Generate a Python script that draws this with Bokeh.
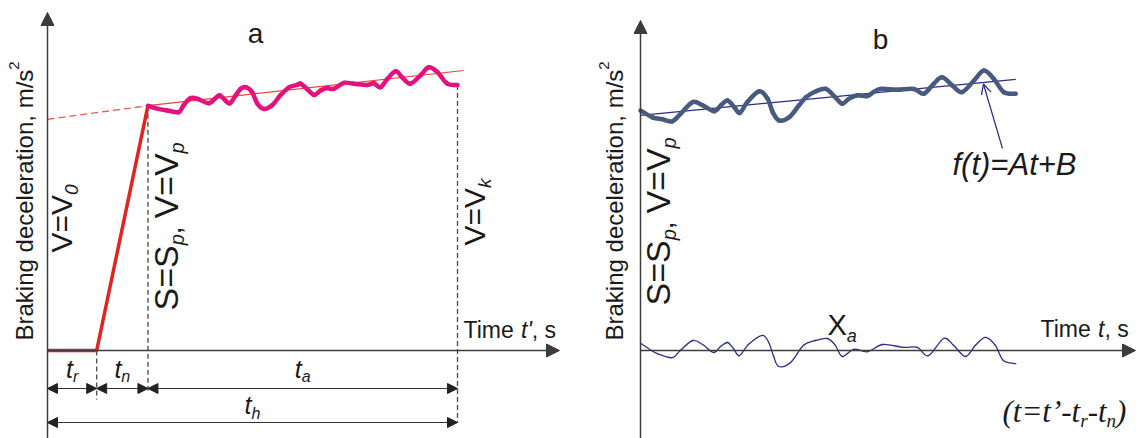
import numpy as np
from bokeh.plotting import figure
from bokeh.models import Range1d, Arrow, NormalHead, OpenHead
from bokeh.core.properties import value
from bokeh.embed import file_html
from bokeh.resources import INLINE

# ---------------- data ----------------
T_R = 1.2          # reaction time, s
T_N = 1.25         # deceleration build-up time, s
T_A = 7.55         # steady braking time, s
T_H = T_R + T_N + T_A
A_P = 6.12         # deceleration at S = Sp

ramp_t = [0.0, T_R, T_R + T_N]
ramp_a = [0.0, 0.0, A_P]

extrap_t = [0.0, T_R + T_N]
extrap_a = [5.78, A_P]
trend_a_t = [T_R + T_N, T_H + 0.15]
trend_a_a = [A_P, 7.0]

meas_t = [2.45, 2.63, 2.92, 3.20, 3.32, 3.49, 3.69, 3.93, 4.10, 4.20,
          4.34, 4.45, 4.59, 4.71, 4.85, 4.99, 5.12, 5.28, 5.48, 5.68,
          5.89, 6.09, 6.17, 6.33, 6.50, 6.66, 6.82, 6.98, 7.23, 7.47,
          7.80, 7.96, 8.12, 8.29, 8.49, 8.65, 8.85, 9.10, 9.30, 9.51,
          9.75, 10.0]
meas_a = [6.12, 6.06, 6.00, 5.96, 6.13, 6.31, 6.28, 6.18, 6.31, 6.38,
          6.25, 6.18, 6.38, 6.54, 6.58, 6.46, 6.17, 6.04, 6.13, 6.38,
          6.58, 6.64, 6.67, 6.54, 6.39, 6.50, 6.56, 6.54, 6.69, 6.67,
          6.64, 6.68, 6.58, 6.79, 6.98, 6.83, 6.67, 6.88, 7.08, 6.96,
          6.67, 6.64]

fit_t = [0.00, 0.24, 0.44, 0.64, 0.81, 1.05, 1.25, 1.48, 1.62, 1.75,
         1.89, 2.00, 2.15, 2.39, 2.56, 2.66, 2.79, 2.99, 3.19, 3.33,
         3.53, 3.73, 3.92, 4.06, 4.19, 4.36, 4.56, 4.69, 4.83, 5.16,
         5.50, 5.70, 5.90, 6.07, 6.27, 6.47, 6.71, 6.91, 7.11, 7.31,
         7.55]
fit_a = [6.00, 5.83, 5.78, 5.73, 5.92, 6.21, 6.13, 5.98, 6.13, 6.25,
         6.08, 5.94, 6.21, 6.48, 6.29, 5.96, 5.75, 5.83, 6.13, 6.33,
         6.48, 6.54, 6.33, 6.17, 6.29, 6.38, 6.36, 6.46, 6.54, 6.52,
         6.54, 6.42, 6.67, 6.83, 6.63, 6.46, 6.75, 7.00, 6.79, 6.46,
         6.42]
trend_b_t = [0.0, T_A]
trend_b_a = [5.88, 6.78]

xa_t = [0.00, 0.16, 0.34, 0.64, 0.80, 1.05, 1.25, 1.47, 1.61, 1.75,
        1.87, 1.99, 2.17, 2.45, 2.58, 2.68, 2.78, 3.02, 3.28, 3.52,
        3.76, 3.92, 4.06, 4.29, 4.57, 4.87, 5.29, 5.57, 5.79, 6.10,
        6.30, 6.54, 6.74, 6.94, 7.14, 7.30, 7.55]
xa_v = [0.18, 0.05, -0.08, -0.18, 0.00, 0.25, 0.15, -0.05, 0.10, 0.20,
        0.05, -0.13, 0.15, 0.38, 0.20, -0.15, -0.40, -0.30, 0.13, 0.25,
        0.30, 0.13, -0.15, 0.03, -0.03, 0.15, 0.08, 0.08, -0.13, 0.30,
        0.13, -0.15, 0.13, 0.33, 0.13, -0.25, -0.33]

# ---------------- layout ----------------
W, H = 1136, 438
OX_A, OX_B, OY = 47.0, 640.0, 350.0
KX_A, KX_B, KY = 41.0, 49.7, 40.0
BASE_FIX = 0.36   # empirical baseline correction (in em)

def dx(px, panel="a"):
    return (px - OX_A) / KX_A if panel == "a" else (px - OX_B) / KX_B

def dy(py):
    return (OY - py) / KY

def tpx(t, panel="a"):
    return OX_A + KX_A * t if panel == "a" else OX_B + KX_B * t

p = figure(width=W, height=H, output_backend="svg", toolbar_location=None,
           x_range=Range1d(dx(0), dx(W)),
           y_range=Range1d(dy(H), dy(0)),
           min_border=0, x_axis_type=None, y_axis_type=None)
p.extra_x_ranges = {"b": Range1d(dx(0, "b"), dx(W, "b"))}
p.grid.visible = False
p.outline_line_color = None
p.background_fill_color = "white"
p.border_fill_color = "white"

AX = "#3c3c3c"
TXT = "#1a1a1a"
SANS_F = "Liberation Sans"
SERIF_F = "Liberation Serif"

SANS = {'V': 667, '=': 584, 'S': 667, 'p': 556, ',': 278, ' ': 278, 'k': 500,
        '0': 556, 'X': 667, 'a': 556, 't': 278, 'r': 333, 'n': 556, 'h': 556,
        'T': 611, 'i': 222, 'm': 833, 'e': 556, 's': 500, "'": 191, 'B': 667,
        'g': 556, 'd': 556, 'c': 500, 'l': 222, 'o': 556, '/': 278, '2': 556,
        'f': 278, '(': 333, ')': 333, 'A': 667, '+': 584, 'b': 556}
SERIF_I = {'(': 333, 't': 278, '=': 675, '\u2019': 333, '-': 333, 'r': 389,
           'n': 500, ')': 333, ' ': 250}

def tw(s, size, table):
    return sum(table.get(c, 556) for c in s) * size / 1000.0

def rich(parts, px, py, panel="a", rotate=False, font=SANS_F, table=SANS, color=TXT):
    cur = 0.0
    for s, size, style, shift in parts:
        down = shift - BASE_FIX * size
        if rotate:
            sx, sy, ang = px + down, py - cur, np.pi / 2
        else:
            sx, sy, ang = px + cur, py + down, 0.0
        kw = {"x_range_name": "b"} if panel == "b" else {}
        p.text(x=[dx(sx, panel)], y=[dy(sy)], text=[s], angle=ang,
               text_font=value(font), text_font_size=f"{size}px",
               text_font_style=style, text_color=color,
               text_align="left", text_baseline="alphabetic", **kw)
        cur += tw(s, size, table)

def rich_width(parts, table=SANS):
    return sum(tw(s, size, table) for s, size, _, _ in parts)

def smooth_curve(xs, ys, **kw):
    """Draw a smooth (Catmull-Rom) curve through the given data points."""
    x = np.asarray(xs, float)
    y = np.asarray(ys, float)
    n = len(x)
    i = np.arange(n - 1)
    im = np.maximum(i - 1, 0)
    ip = np.minimum(i + 2, n - 1)
    cx0 = x[i] + (x[i + 1] - x[im]) / 6.0
    cy0 = y[i] + (y[i + 1] - y[im]) / 6.0
    cx1 = x[i + 1] - (x[ip] - x[i]) / 6.0
    cy1 = y[i + 1] - (y[ip] - y[i]) / 6.0
    p.bezier(x0=x[:-1], y0=y[:-1], x1=x[1:], y1=y[1:],
             cx0=cx0, cy0=cy0, cx1=cx1, cy1=cy1, line_cap="round", **kw)

# ---------------- panel a ----------------
p.add_layout(Arrow(end=NormalHead(size=13, fill_color=AX, line_color=AX),
                   x_start=0, y_start=dy(445), x_end=0, y_end=dy(12),
                   line_color=AX, line_width=1.5))
p.add_layout(Arrow(end=NormalHead(size=13, fill_color=AX, line_color=AX),
                   x_start=0, y_start=0, x_end=dx(559), y_end=0,
                   line_color=AX, line_width=1.5))

DASH = "5 3"
p.line([T_R, T_R], [0, dy(399)], line_color="#555555", line_width=1.4, line_dash=DASH)
p.line([T_R + T_N, T_R + T_N], [A_P, dy(392)], line_color="#555555", line_width=1.4, line_dash=DASH)
p.line([T_H, T_H], [meas_a[-1], dy(422)], line_color="#555555", line_width=1.4, line_dash=DASH)

p.line(extrap_t, extrap_a, line_color="#EF5A50", line_width=1.3, line_dash="7 4")
p.line(trend_a_t, trend_a_a, line_color="#EE4433", line_width=1.2)

p.line(ramp_t, ramp_a, line_color="#E3231F", line_width=3.5, line_join="round")
smooth_curve(meas_t, meas_a, line_color="#E2137E", line_width=4.5)

def dim(x0, x1, y, panel="a"):
    kw = {"x_range_name": "b"} if panel == "b" else {}
    p.add_layout(Arrow(start=NormalHead(size=10, fill_color="#222222", line_color="#222222"),
                       end=NormalHead(size=10, fill_color="#222222", line_color="#222222"),
                       x_start=x0, y_start=y, x_end=x1, y_end=y,
                       line_color="#333333", line_width=1.2, **kw))

ROW1, ROW2 = dy(388), dy(422)
dim(0, T_R, ROW1)
dim(T_R, T_R + T_N, ROW1)
dim(T_R + T_N, T_H, ROW1)
dim(0, T_H, ROW2)

def tsub(sub, center_t, base_py, sub_shift=5):
    parts = [("t", 25, "italic", 0), (sub, 16, "italic", sub_shift)]
    w = rich_width(parts)
    rich(parts, tpx(center_t) - w / 2, base_py)

tsub("r", T_R / 2, 377)
tsub("n", T_R + T_N / 2, 377)
tsub("a", T_R + T_N + T_A / 2, 377)
tsub("h", T_H / 2, 413, 6)

rich([("Braking deceleration, m/s", 24, "normal", 0), ("2", 15, "normal", -14)], 33, 340, rotate=True)
rich([("a", 28, "normal", 0)], 255 - tw("a", 28, SANS) / 2, 43)
rich([("Time ", 23, "normal", 0), ("t'", 23, "italic", 0), (", s", 23, "normal", 0)], 463, 338)
rich([("V=V", 30, "normal", 0), ("0", 19, "italic", 6)], 72, 252, rotate=True)
rich([("S=S", 34, "normal", 0), ("p", 20, "italic", 6), (", ", 28, "normal", 3),
      ("V=V", 34, "normal", 0), ("p", 20, "italic", 6)], 178, 310, rotate=True)
rich([("V=V", 30, "normal", 0), ("k", 19, "italic", 6)], 485, 245, rotate=True)

# ---------------- panel b ----------------
p.add_layout(Arrow(end=NormalHead(size=13, fill_color=AX, line_color=AX),
                   x_start=0, y_start=dy(445), x_end=0, y_end=dy(20),
                   line_color=AX, line_width=1.5, x_range_name="b"))
p.add_layout(Arrow(end=NormalHead(size=13, fill_color=AX, line_color=AX),
                   x_start=0, y_start=0, x_end=dx(1135, "b"), y_end=0,
                   line_color=AX, line_width=1.5, x_range_name="b"))

p.line(trend_b_t, trend_b_a, line_color="#2B2B88", line_width=1.2, x_range_name="b")
smooth_curve(fit_t, fit_a, line_color="#485B7E", line_width=4.5, x_range_name="b")
smooth_curve(xa_t, xa_v, line_color="#2D2D8F", line_width=1.3, x_range_name="b")

tip_t = 6.9
tip_a = trend_b_a[0] + (trend_b_a[1] - trend_b_a[0]) * tip_t / T_A
p.add_layout(Arrow(end=OpenHead(size=10, line_color="#2B2B88", line_width=1.3),
                   x_start=dx(1002, "b"), y_start=dy(148), x_end=tip_t, y_end=tip_a - 0.04,
                   line_color="#2B2B88", line_width=1.2, x_range_name="b"))

rich([("Braking deceleration, m/s", 24, "normal", 0), ("2", 15, "normal", -14)], 623, 340, panel="b", rotate=True)
rich([("b", 28, "normal", 0)], 880 - tw("b", 28, SANS) / 2, 49, panel="b")
rich([("S=S", 34, "normal", 0), ("p", 20, "italic", 6), (", ", 28, "normal", 3),
      ("V=V", 34, "normal", 0), ("p", 20, "italic", 6)], 670, 305, panel="b", rotate=True)
rich([("X", 29, "normal", 0), ("a", 18, "italic", 7)], 827, 335, panel="b")
rich([("Time ", 23, "normal", 0), ("t", 23, "italic", 0), (", s", 23, "normal", 0)], 1040, 337, panel="b")
rich([("f(t)=At+B", 31, "italic", 0)], 952, 175, panel="b")
rich([("(t=t\u2019-t", 31, "italic", 0), ("r", 19, "italic", 5), ("-t", 31, "italic", 0),
      ("n", 19, "italic", 5), (")", 31, "italic", 0)], 1002, 422, panel="b",
     font=SERIF_F, table=SERIF_I)

open("out.html", "w").write(file_html(p, INLINE))
